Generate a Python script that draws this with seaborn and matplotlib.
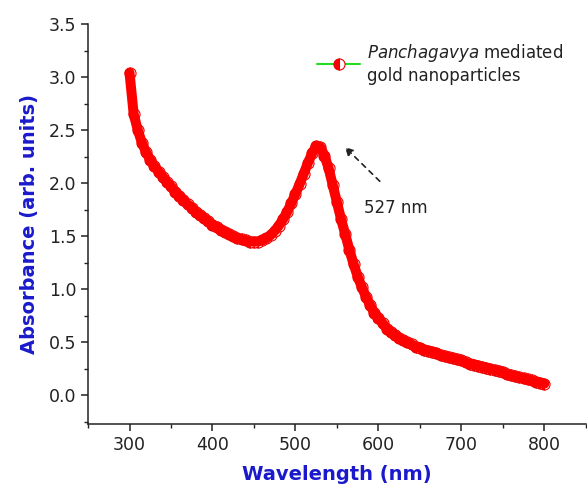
import numpy as np
import pandas as pd
import matplotlib
matplotlib.use('Agg')
import matplotlib.pyplot as plt
from matplotlib.ticker import MultipleLocator, FormatStrFormatter
import seaborn as sns

# UV-Vis absorbance spectrum (every 5 nm)
wavelength = list(range(300, 805, 5))
absorbance = [
    3.04, 2.65, 2.50, 2.38, 2.29, 2.22, 2.16, 2.11, 2.06, 2.01,   # 300-345
    1.97, 1.92, 1.88, 1.84, 1.80, 1.77, 1.73, 1.70, 1.67, 1.64,   # 350-395
    1.61, 1.59, 1.56, 1.54, 1.52, 1.50, 1.48, 1.47, 1.46, 1.45,   # 400-445
    1.45, 1.45, 1.46, 1.48, 1.51, 1.55, 1.60, 1.66, 1.73, 1.81,   # 450-495
    1.90, 1.99, 2.09, 2.19, 2.28, 2.35, 2.34, 2.26, 2.14, 1.98,   # 500-545
    1.82, 1.66, 1.52, 1.37, 1.24, 1.12, 1.02, 0.93, 0.85, 0.78,   # 550-595
    0.73, 0.68, 0.63, 0.60, 0.57, 0.54, 0.52, 0.50, 0.48, 0.46,   # 600-645
    0.45, 0.43, 0.42, 0.41, 0.40, 0.38, 0.37, 0.36, 0.35, 0.34,   # 650-695
    0.33, 0.31, 0.30, 0.29, 0.28, 0.27, 0.26, 0.25, 0.24, 0.23,   # 700-745
    0.22, 0.20, 0.19, 0.18, 0.17, 0.16, 0.15, 0.14, 0.13, 0.12,   # 750-795
    0.11,                                                          # 800
]
peak_label = '527 nm'
series_label = r'$\it{Panchagavya}$ mediated' + '\ngold nanoparticles'

df = pd.DataFrame({'Wavelength': wavelength, 'Absorbance': absorbance})

sns.set_style('ticks')
plt.rcParams['font.family'] = ['DejaVu Sans']
plt.rcParams['mathtext.fontset'] = 'dejavusans'

fig = plt.figure(figsize=(5.87, 4.91), dpi=100)
ax = fig.add_axes([0.150, 0.1365, 0.848, 0.8145])

# green line with half-filled red circles (Origin style)
sns.lineplot(data=df, x='Wavelength', y='Absorbance', ax=ax,
             color='#22dd22', linewidth=1.5, marker='o', markersize=8,
             fillstyle='left', markerfacecolor='#ff0000',
             markerfacecoloralt='white', markeredgecolor='#ee0000',
             markeredgewidth=0.8, label=series_label, zorder=2)
# the dense marker band in the original reads as a thick red stroke
sns.lineplot(data=df, x='Wavelength', y='Absorbance', ax=ax,
             color='#ff0000', linewidth=7.2, zorder=3, legend=False,
             solid_capstyle='round', solid_joinstyle='round')

ax.set_xlim(250, 850)
ax.set_ylim(-0.27, 3.5)
ax.xaxis.set_major_locator(MultipleLocator(100))
ax.xaxis.set_minor_locator(MultipleLocator(50))
ax.yaxis.set_major_locator(MultipleLocator(0.5))
ax.yaxis.set_minor_locator(MultipleLocator(0.25))
ax.yaxis.set_major_formatter(FormatStrFormatter('%.1f'))

ax.tick_params(which='major', direction='out', length=5, width=1.1,
               labelsize=12.5, colors='#222222')
ax.tick_params(which='minor', direction='out', length=3, width=1.0,
               colors='#222222')
sns.despine(ax=ax)
for side in ['left', 'bottom']:
    ax.spines[side].set_linewidth(1.1)
    ax.spines[side].set_color('#222222')

ax.set_xlabel('Wavelength (nm)', fontsize=14, fontweight='bold',
              color='#1a1acc', labelpad=8)
ax.set_ylabel('Absorbance (arb. units)', fontsize=14, fontweight='bold',
              color='#1a1acc', labelpad=7)

# peak annotation
ax.annotate('', xy=(557, 2.36), xytext=(604, 2.00),
            arrowprops=dict(arrowstyle='-|>', linestyle=(0, (3, 3)),
                            color='#222222', lw=1.2, mutation_scale=12))
ax.text(583, 1.77, peak_label, fontsize=12, color='#222222',
        va='center', ha='left')

leg = ax.legend(loc='upper left', bbox_to_anchor=(0.43, 0.993),
                frameon=False, fontsize=12, handlelength=2.6,
                handletextpad=0.4, numpoints=1, labelspacing=0.2)
for t in leg.get_texts():
    t.set_color('#222222')

fig.savefig('out.png', dpi=100)
